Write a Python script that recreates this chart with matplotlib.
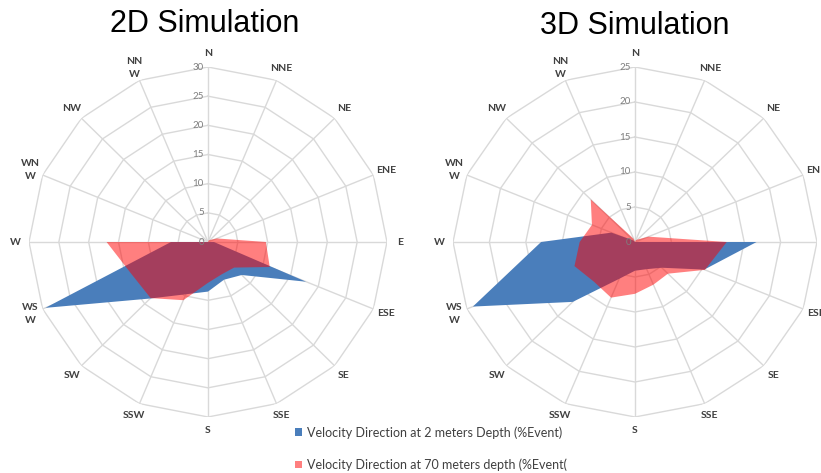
import numpy as np
import matplotlib
matplotlib.use("Agg")
import matplotlib.pyplot as plt

directions = ["N", "NNE", "NE", "ENE", "E", "ESE", "SE", "SSE",
              "S", "SSW", "SW", "WSW", "W", "WNW", "NW", "NNW"]
dir_labels = ["N", "NNE", "NE", "ENE", "E", "ESE", "SE", "SSE",
              "S", "SSW", "SW", "WS\nW", "W", "WN\nW", "NW", "NN\nW"]

# % of events per direction
blue_2d = [0, 0, 0, 0, 1.0, 17.8, 8.0, 7.0, 8.5, 9.7, 13.7, 29.5, 6.2, 0, 0, 0]
red_2d = [0, 0.3, 0.5, 1.6, 9.7, 11.2, 6.2, 6.0, 7.0, 10.8, 13.6, 14.0, 17.0, 0, 0, 0]
blue_3d = [0, 0, 0, 0, 16.7, 10.3, 5.2, 4.2, 4.1, 5.7, 12.1, 24.1, 12.9, 3.5, 0.3, 0]
red_3d = [0, 0.3, 0.5, 2.0, 12.6, 10.4, 6.4, 6.6, 7.4, 8.6, 8.0, 9.0, 7.6, 6.4, 8.6, 0.5]

titles = ["2D Simulation", "3D Simulation"]
rmax_list = [30, 25]
legend_labels = ["Velocity Direction at 2 meters Depth (%Event)",
                 "Velocity Direction at 70 meters depth (%Event("]

BLUE = "#4A7EBB"
RED = "#FF0000"
GRID = "#D9D9D9"
TXT = "#404040"

theta = np.deg2rad(np.arange(len(directions)) * 360.0 / len(directions))
theta_c = np.append(theta, theta[0])


def radar(ax, blue, red, rmax):
    ax.set_theta_zero_location("N")
    ax.set_theta_direction(-1)
    ax.set_ylim(0, rmax)
    ax.set_aspect("auto")
    ax.grid(False)
    ax.spines["polar"].set_visible(False)
    ax.set_xticks([])
    ax.set_yticks([])
    ax.patch.set_alpha(0)

    for r in range(5, rmax + 1, 5):
        ax.plot(theta_c, [r] * len(theta_c), color=GRID, lw=1, zorder=1)
    for t in theta:
        ax.plot([t, t], [0, rmax], color=GRID, lw=1, zorder=1)

    hb = ax.fill(theta_c, np.append(blue, blue[0]), color=BLUE, lw=0, zorder=2)
    hr = ax.fill(theta_c, np.append(red, red[0]), color=RED, alpha=0.5, lw=0, zorder=3)

    for v in range(0, rmax + 1, 5):
        ax.annotate(str(v), xy=(0, v), xytext=(-3, 0), textcoords="offset points",
                    ha="right", va="center", fontsize=7, color="#7F7F7F",
                    family="Lato", zorder=4)
    for t, lab in zip(theta, dir_labels):
        ax.text(t, rmax * 1.075, lab, ha="center", va="center", fontsize=7.5,
                fontweight="bold", color=TXT, family="Lato", linespacing=1.6)
    return hb[0], hr[0]


fig = plt.figure(figsize=(8.21, 4.73), dpi=100)
ax1 = fig.add_axes([29 / 821, 56 / 473, 358 / 821, 350 / 473], projection="polar")
ax2 = fig.add_axes([453 / 821, 56 / 473, 364 / 821, 350 / 473], projection="polar")

hb, hr = radar(ax1, blue_2d, red_2d, rmax_list[0])
radar(ax2, blue_3d, red_3d, rmax_list[1])

fig.text(205 / 821, 1 - 24 / 473, titles[0], ha="center", va="center",
         fontsize=22, family="Liberation Sans")
fig.text(635 / 821, 1 - 26 / 473, titles[1], ha="center", va="center",
         fontsize=22, family="Liberation Sans")

fig.legend([hb, hr], legend_labels, loc="upper left",
           bbox_to_anchor=(290 / 821, 1 - 421 / 473), frameon=False,
           labelcolor=TXT, prop={"family": "Lato", "size": 9},
           handlelength=0.55, handleheight=0.55, handletextpad=0.4,
           labelspacing=1.6, borderaxespad=0)

fig.savefig("out.png", dpi=100)
